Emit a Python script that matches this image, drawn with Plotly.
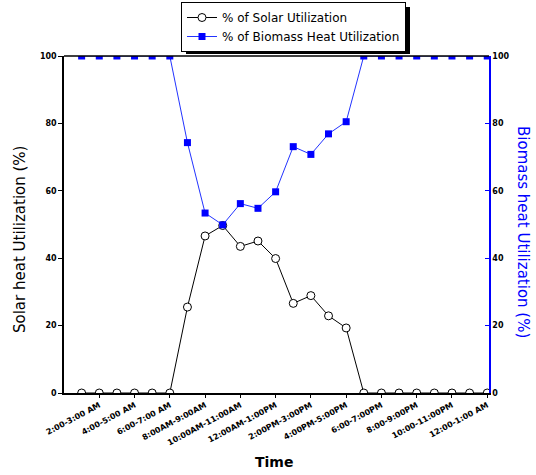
import plotly.graph_objects as go

hours = list(range(1, 25))
solar = [0, 0, 0, 0, 0, 0, 25.5, 46.6, 49.7, 43.5, 45.1, 39.9, 26.6, 28.9, 22.9, 19.3,
         0, 0, 0, 0, 0, 0, 0, 0]
biomass = [100, 100, 100, 100, 100, 100, 74.3, 53.4, 49.9, 56.2, 54.8, 59.7, 73.1, 70.8, 76.9, 80.5,
           100, 100, 100, 100, 100, 100, 100, 100]
tick_pos = [2, 4, 6, 8, 10, 12, 14, 16, 18, 20, 22, 24]
tick_text = ["2:00-3:00 AM", "4:00-5:00 AM", "6:00-7:00 AM", "8:00AM-9:00AM",
             "10:00AM-11:00AM", "12:00AM-1:00PM", "2:00PM-3:00PM", "4:00PM-5:00PM",
             "6:00-7:00PM", "8:00-9:00PM", "10:00-11:00PM", "12:00-1:00 AM"]
y_ticks = [0, 20, 40, 60, 80, 100]

L, R, T, B = 64, 489, 56, 393
W, H = 536, 475
def px(x):
    return (x - L) / (R - L)
def py(y):
    return (B - y) / (B - T)

fig = go.Figure()
fig.add_trace(go.Scatter(
    x=hours, y=solar, name="% of Solar Utilization", mode="lines+markers",
    line=dict(color="black", width=1),
    marker=dict(symbol="circle", size=8, color="white", line=dict(color="black", width=1)),
))
fig.add_trace(go.Scatter(
    x=hours, y=biomass, name="% of Biomass Heat Utilization", mode="lines+markers",
    yaxis="y2",
    line=dict(color="#2233ff", width=1),
    marker=dict(symbol="square", size=7, color="#0000ff", line=dict(color="#0000ff", width=0)),
))

FONT = "DejaVu Sans"
tickfont = dict(family=FONT, size=8, color="black", weight="bold")
fig.update_layout(
    width=W, height=H,
    margin=dict(l=L, r=W - R, t=T, b=H - B, autoexpand=False),
    paper_bgcolor="white", plot_bgcolor="white",
    showlegend=True,
    legend=dict(xref="container", yref="container", x=181 / W, y=1 - 2 / H,
                xanchor="left", yanchor="top",
                bgcolor="white", bordercolor="black", borderwidth=1,
                font=dict(family=FONT, size=12, color="black"),
                tracegroupgap=0, itemwidth=30),
    xaxis=dict(range=[0, 24.1], tickvals=tick_pos, ticktext=tick_text, tickangle=-28,
               tickfont=tickfont, showgrid=False, zeroline=False, automargin=False,
               showline=True, linecolor="black", linewidth=1.5, mirror=False,
               ticks="outside", ticklen=3, tickcolor="black"),
    yaxis=dict(range=[0, 100], tickvals=y_ticks, tickfont=tickfont, showgrid=False, zeroline=False,
               showline=True, linecolor="black", linewidth=1.5, ticks="outside", ticklen=4,
               tickcolor="black", automargin=False),
    yaxis2=dict(range=[0, 100], tickvals=y_ticks, tickfont=tickfont, overlaying="y", side="right",
                showgrid=False, zeroline=False, showline=True, linecolor="#0000ff", linewidth=1.5,
                ticks="inside", ticklen=4, tickcolor="#0000ff", automargin=False),
    shapes=[
        dict(type="line", xref="paper", yref="paper", x0=0, x1=1, y0=1, y1=1,
             line=dict(color="black", width=1.5)),
        dict(type="rect", xref="paper", yref="paper", x0=px(186), x1=px(410), y0=py(54), y1=py(7),
             fillcolor="black", line=dict(width=0), layer="below"),
    ],
    annotations=[
        dict(text="Solar heat Utilization (%)", xref="paper", yref="paper",
             x=px(20), y=py(240), textangle=-90, showarrow=False,
             xanchor="center", yanchor="middle",
             font=dict(family=FONT, size=15, color="black")),
        dict(text="Biomass heat Utilization (%)", xref="paper", yref="paper",
             x=px(523), y=py(232), textangle=90, showarrow=False,
             xanchor="center", yanchor="middle",
             font=dict(family=FONT, size=15, color="#0000ff")),
        dict(text="<b>Time</b>", xref="paper", yref="paper",
             x=px(274), y=py(462), showarrow=False,
             xanchor="center", yanchor="middle",
             font=dict(family=FONT, size=14, color="black")),
    ],
)
fig.write_html("out.html")
